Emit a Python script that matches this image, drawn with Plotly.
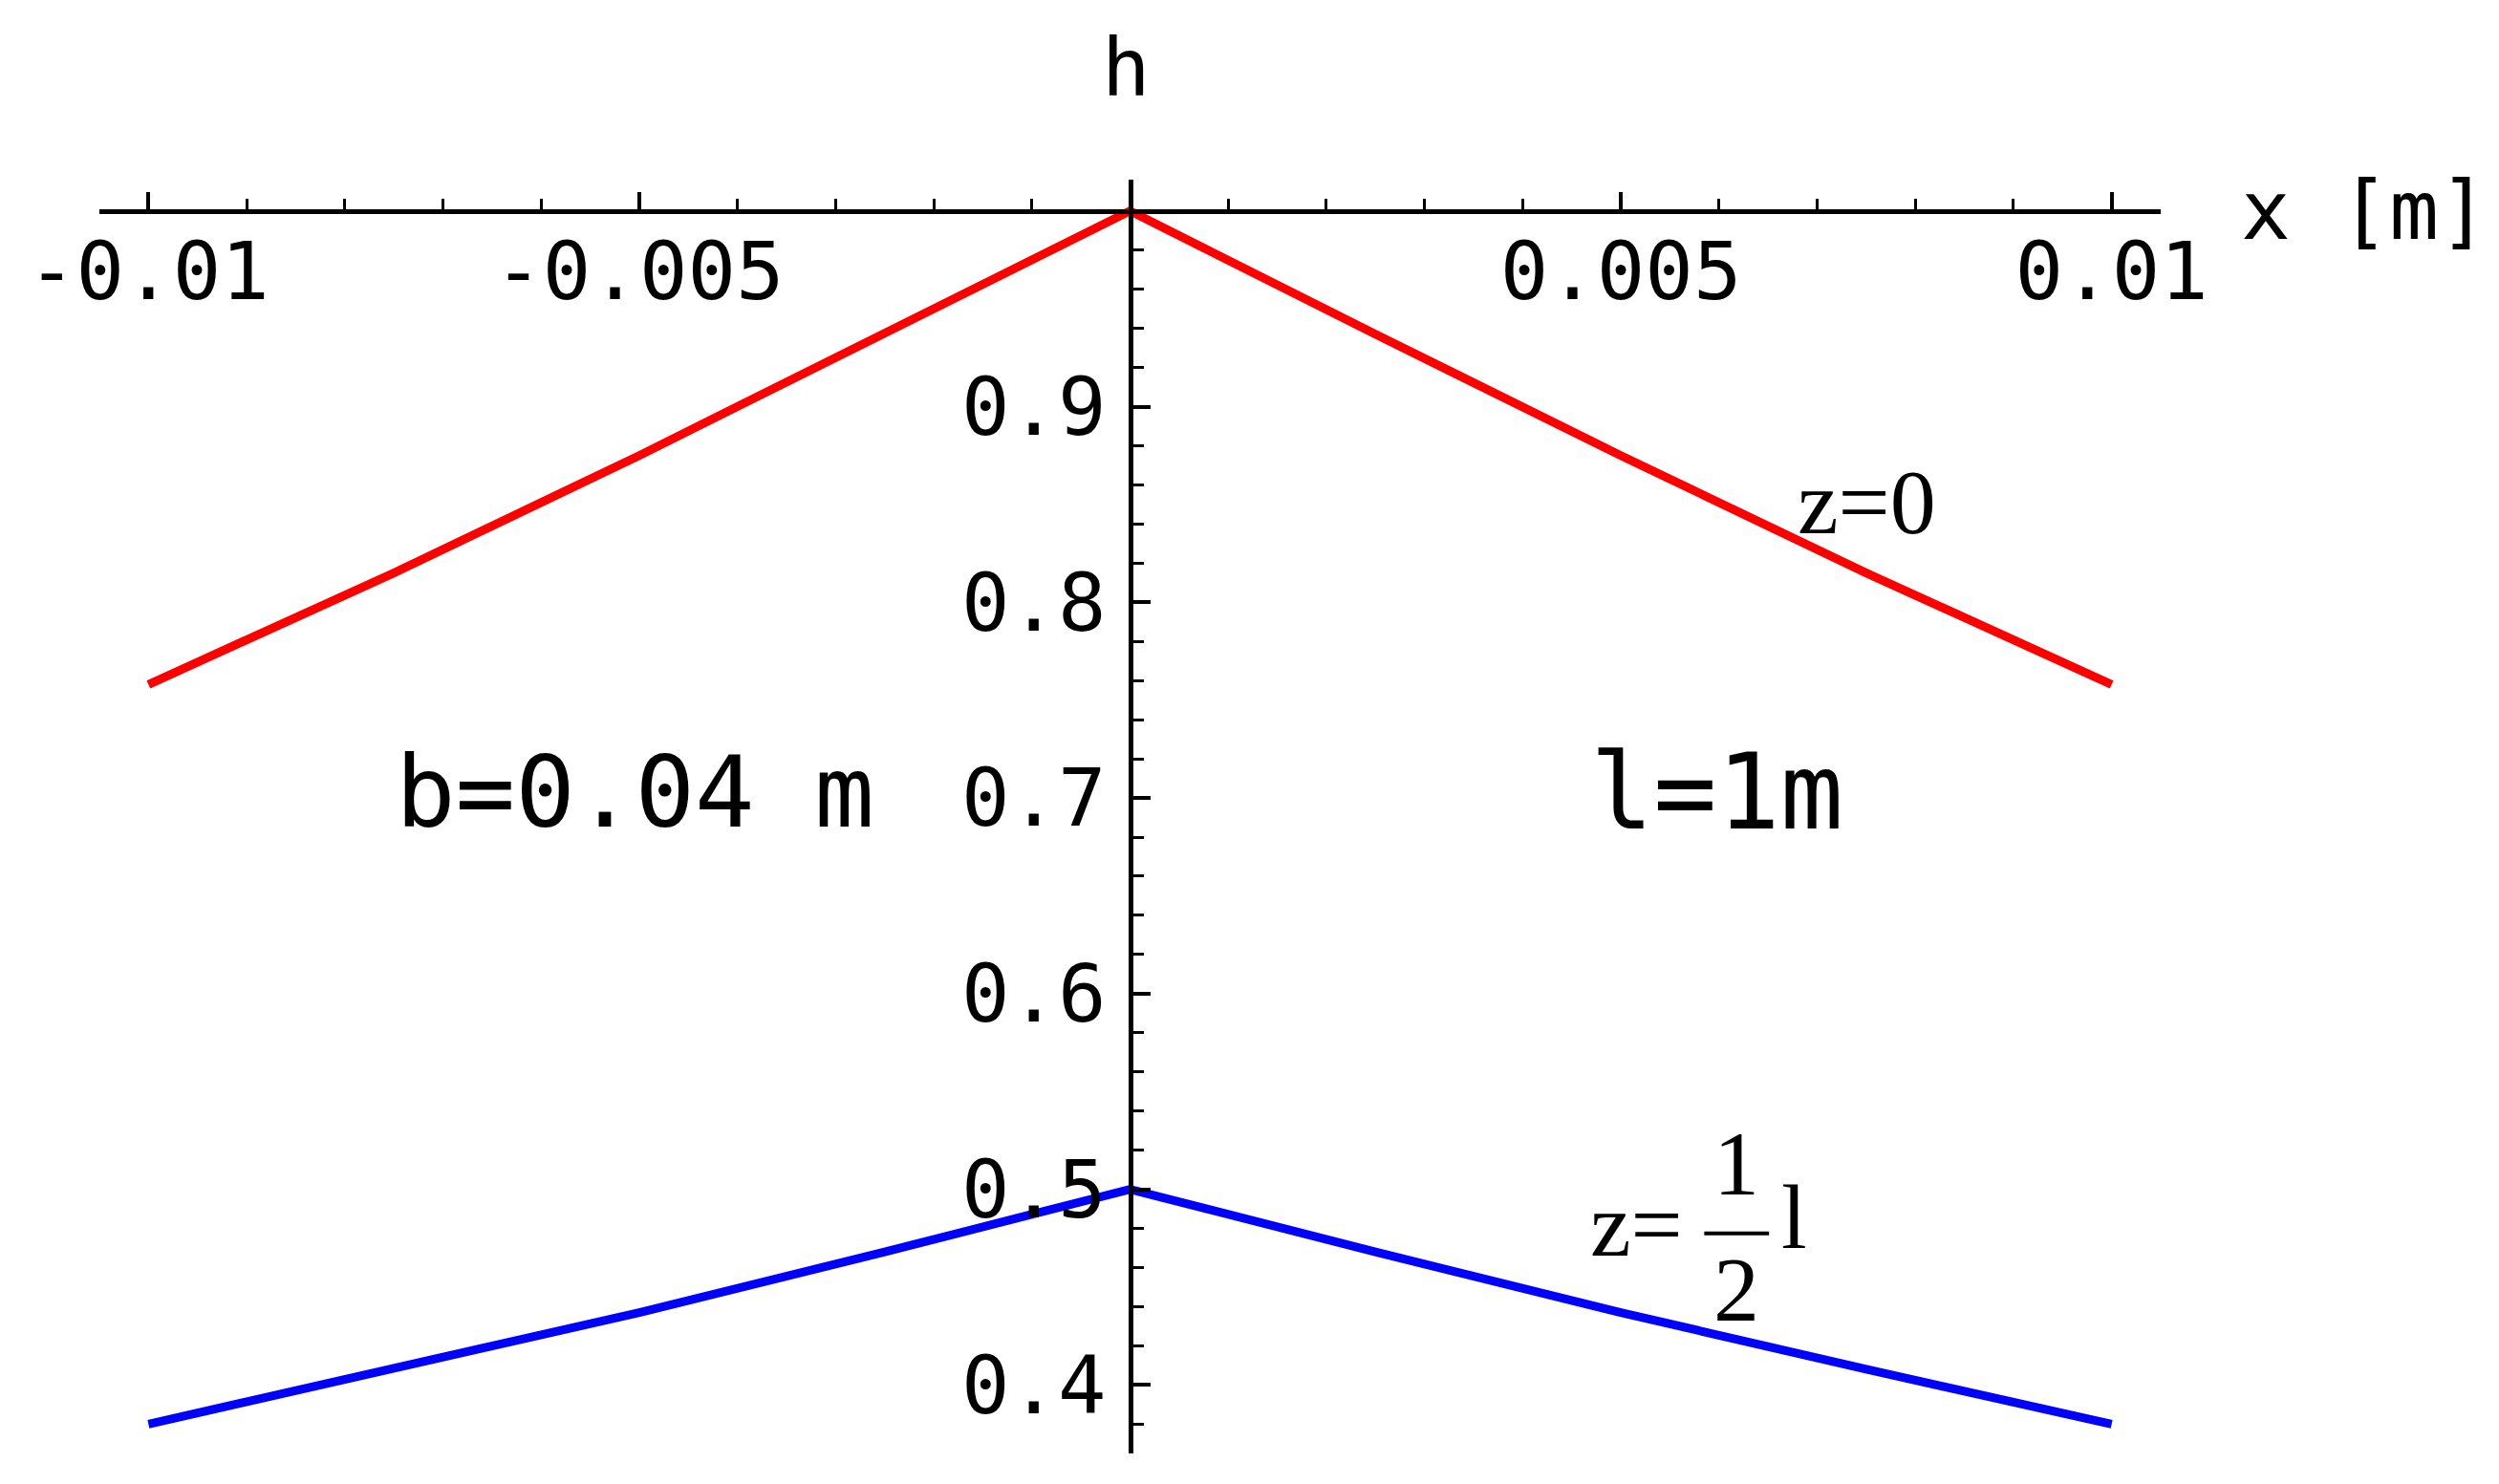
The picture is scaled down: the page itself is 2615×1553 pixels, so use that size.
import plotly.graph_objects as go

# 数据
x_vals = [-0.01, -0.0075, -0.005, -0.0025, 0.0, 0.0025, 0.005, 0.0075, 0.01]
h_z0 = [0.758, 0.815, 0.875, 0.937, 1.0, 0.937, 0.875, 0.815, 0.758]
h_zhalf = [0.380, 0.408, 0.437, 0.468, 0.500, 0.468, 0.437, 0.408, 0.380]

x_tickvals = [-0.01, -0.005, 0.0, 0.005, 0.01]
x_ticktext = ["-0.01", "-0.005", "", "0.005", "0.01"]
y_tickvals = [0.4, 0.5, 0.6, 0.7, 0.8, 0.9]
y_ticktext = ["0.4", "0.5", "0.6", "0.7", "0.8", "0.9"]

X_RANGE = [-0.0105, 0.0105]
Y_RANGE = [0.365, 1.016]
MONO = "DejaVu Sans Mono"
SERIF = "Liberation Serif"


def px(x):
    """数据 x -> paper 坐标"""
    return (x - X_RANGE[0]) / (X_RANGE[1] - X_RANGE[0])


def py(y):
    """数据 y -> paper 坐标"""
    return (y - Y_RANGE[0]) / (Y_RANGE[1] - Y_RANGE[0])


fig = go.Figure()
fig.add_trace(go.Scatter(x=x_vals, y=h_z0, mode="lines",
                         line=dict(color="#ff0000", width=9), name="z=0"))
fig.add_trace(go.Scatter(x=x_vals, y=h_zhalf, mode="lines",
                         line=dict(color="#0000ff", width=9), name="z=l/2"))

# x 轴在 y=1 处，刻度朝上，标签在下
fig.update_xaxes(
    range=X_RANGE, anchor="free", position=py(1.0), side="bottom",
    showline=True, linecolor="black", linewidth=5,
    showgrid=False, zeroline=False,
    tickmode="array", tickvals=x_tickvals, ticktext=x_ticktext,
    ticks="inside", ticklen=18, tickwidth=4, tickcolor="black",
    ticklabelstandoff=-12,
    tickfont=dict(family=MONO, size=84, color="black"),
    minor=dict(dtick=0.001, tick0=0, ticks="inside", ticklen=11,
               tickwidth=3, tickcolor="black", showgrid=False),
)
# y 轴在 x=0 处
fig.update_yaxes(
    range=Y_RANGE, anchor="free", position=px(0.0), side="left",
    showline=True, linecolor="black", linewidth=5,
    showgrid=False, zeroline=False,
    tickmode="array", tickvals=y_tickvals, ticktext=y_ticktext,
    ticks="inside", ticklen=18, tickwidth=4, tickcolor="black",
    ticklabelstandoff=6,
    tickfont=dict(family=MONO, size=84, color="black"),
    minor=dict(dtick=0.02, tick0=0, ticks="inside", ticklen=11,
               tickwidth=3, tickcolor="black", showgrid=False),
)

ann = [
    dict(x=px(-0.00004), y=py(1.048), text="h", font=dict(family=MONO, size=84),
         xanchor="center", yanchor="bottom"),
    dict(x=px(0.0113), y=py(1.0005), text="x [m]", font=dict(family=MONO, size=86),
         xanchor="left", yanchor="middle"),
    dict(x=px(-0.00504), y=py(0.703), text="b=0.04 m", font=dict(family=MONO, size=104),
         xanchor="center", yanchor="middle"),
    dict(x=px(0.00598), y=py(0.703), text="l=1m", font=dict(family=MONO, size=110),
         xanchor="center", yanchor="middle"),
    dict(x=px(0.00751), y=py(0.851), text="z=0", font=dict(family=SERIF, size=96),
         xanchor="center", yanchor="middle"),
    # z = (1/2) l
    dict(x=px(0.00565), y=py(0.482), text="z=", font=dict(family=SERIF, size=96),
         xanchor="right", yanchor="middle"),
    dict(x=px(0.00618), y=py(0.513), text="1", font=dict(family=SERIF, size=96),
         xanchor="center", yanchor="middle"),
    dict(x=px(0.00618), y=py(0.449), text="2", font=dict(family=SERIF, size=96),
         xanchor="center", yanchor="middle"),
    dict(x=px(0.00662), y=py(0.486), text="l", font=dict(family=SERIF, size=96),
         xanchor="left", yanchor="middle"),
]
for a in ann:
    a.update(xref="paper", yref="paper", showarrow=False)
    a["font"]["color"] = "black"

fig.update_layout(
    width=2615, height=1553,
    margin=dict(l=96, r=362, t=180, b=40),
    paper_bgcolor="white", plot_bgcolor="white",
    showlegend=False,
    annotations=ann,
    shapes=[dict(type="line", xref="paper", yref="paper",
                 x0=px(0.00585), x1=px(0.00651), y0=py(0.4775), y1=py(0.4775),
                 line=dict(color="black", width=4))],
)

fig.write_html("out.html")
